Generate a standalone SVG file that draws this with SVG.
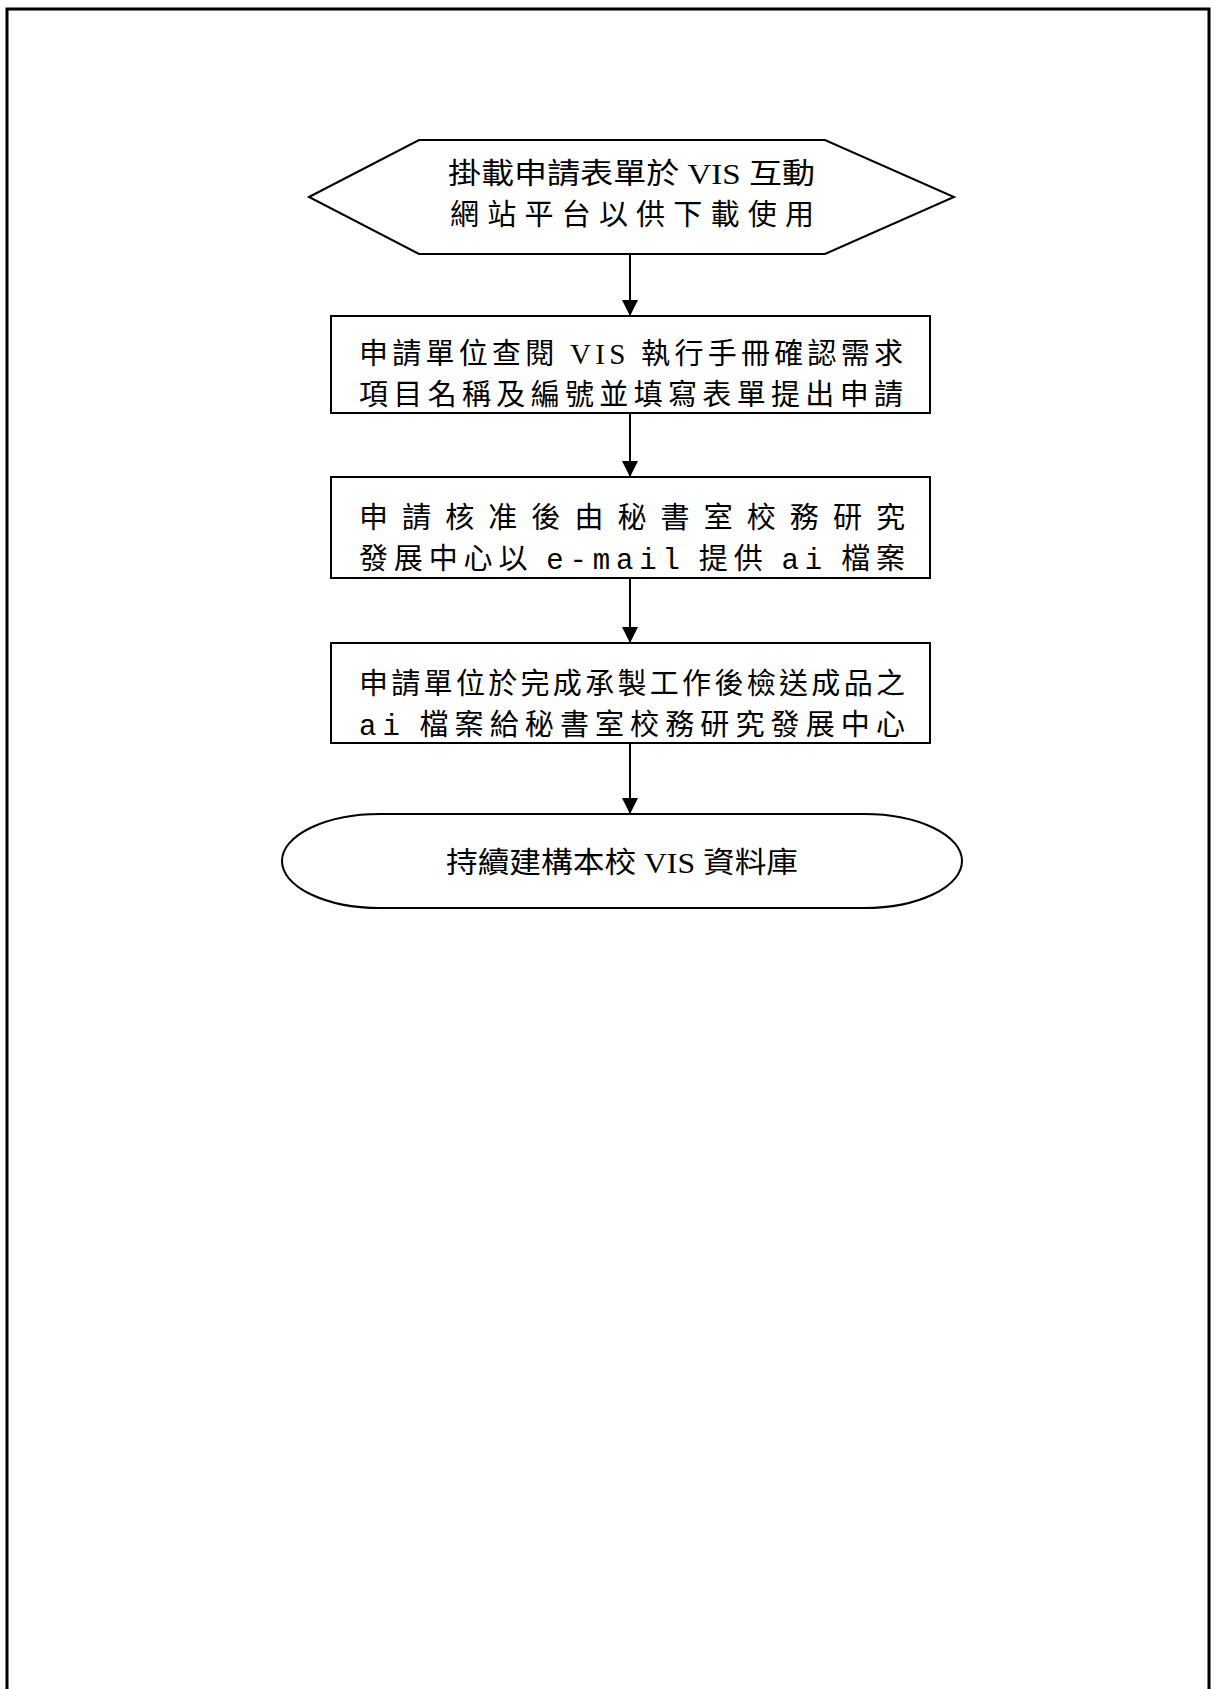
<svg xmlns="http://www.w3.org/2000/svg" width="1215" height="1689" viewBox="0 0 1215 1689">
<style>
.shape{fill:#fff;stroke:#000;stroke-width:2}
.lbl{font-family:"Liberation Serif","Noto Sans CJK TC",serif;font-size:29px;fill:#000}
.mono{font-family:"Liberation Mono","Noto Sans CJK TC",monospace}
.conn{stroke:#000;stroke-width:2;fill:none}
</style>
<defs>
<marker id="ah" markerWidth="16" markerHeight="16" refX="16" refY="8" orient="auto" markerUnits="userSpaceOnUse">
<path d="M0,0 L16,8 L0,16 Z" fill="#000"/>
</marker>
</defs>
<path d="M7,1689 L7,9 L1209,9 L1209,1689" fill="none" stroke="#000" stroke-width="3"/>
<g id="connectors">
<line class="conn" x1="630" y1="254" x2="630" y2="316" marker-end="url(#ah)"/>
<line class="conn" x1="630" y1="413" x2="630" y2="477" marker-end="url(#ah)"/>
<line class="conn" x1="630" y1="578" x2="630" y2="643" marker-end="url(#ah)"/>
<line class="conn" x1="630" y1="743" x2="630" y2="814" marker-end="url(#ah)"/>
</g>
<g id="n1">
<polygon class="shape" points="309,197 419,140 825,140 954,197 825,254 419,254"/>
<text class="lbl" x="448" y="184" textLength="367" lengthAdjust="spacingAndGlyphs">掛載申請表單於 VIS 互動</text>
<text class="lbl" x="450" y="225" textLength="364" lengthAdjust="spacing">網站平台以供下載使用</text>
</g>
<g id="n2">
<rect class="shape" x="331" y="316" width="599" height="97"/>
<text class="lbl" x="359" y="364" textLength="544" lengthAdjust="spacing">申請單位查閱 VIS 執行手冊確認需求</text>
<text class="lbl" x="359" y="405" textLength="544" lengthAdjust="spacing">項目名稱及編號並填寫表單提出申請</text>
</g>
<g id="n3">
<rect class="shape" x="331" y="477" width="599" height="101"/>
<text class="lbl" x="359" y="528" textLength="546" lengthAdjust="spacing">申請核准後由秘書室校務研究</text>
<text class="lbl" x="359" y="569" textLength="546" lengthAdjust="spacing">發展中心以 <tspan class="mono">e-mail</tspan> 提供 <tspan class="mono">ai</tspan> 檔案</text>
</g>
<g id="n4">
<rect class="shape" x="331" y="643" width="599" height="100"/>
<text class="lbl" x="359" y="694" textLength="546" lengthAdjust="spacing">申請單位於完成承製工作後檢送成品之</text>
<text class="lbl" x="359" y="735" textLength="546" lengthAdjust="spacing"><tspan class="mono">ai</tspan> 檔案給秘書室校務研究發展中心</text>
</g>
<g id="n5">
<rect class="shape" x="282" y="814" width="680" height="94" rx="98" ry="47"/>
<text class="lbl" x="446" y="873" textLength="352" lengthAdjust="spacingAndGlyphs">持續建構本校 VIS 資料庫</text>
</g>
</svg>
